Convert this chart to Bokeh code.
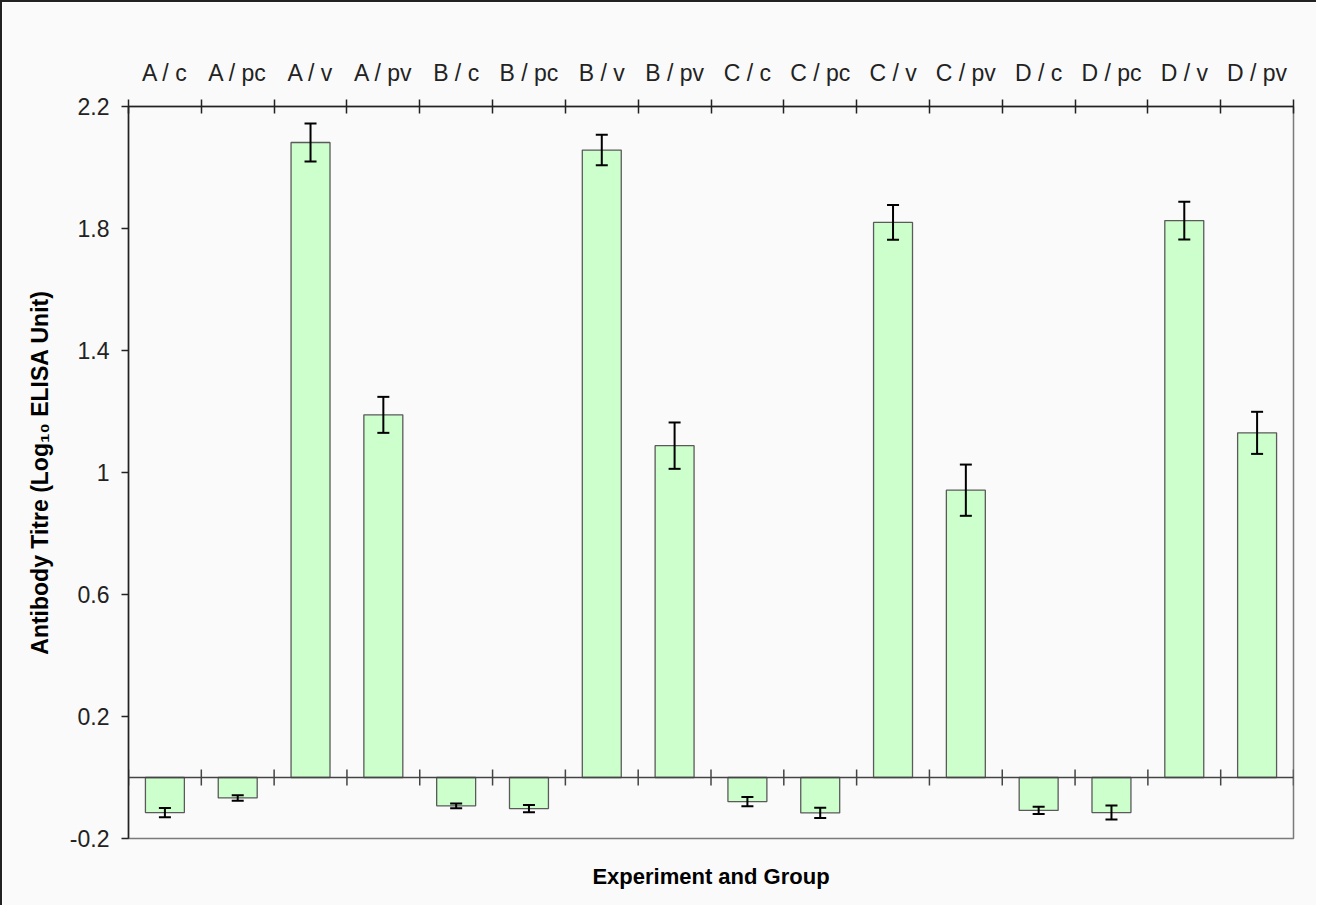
import math
from bokeh.plotting import figure
from bokeh.models import (ColumnDataSource, Range1d, LinearAxis, FixedTicker,
                          Whisker, TeeHead, Span, CustomJSTickFormatter)
from bokeh.embed import file_html
from bokeh.resources import INLINE

# ---- data ----
groups = ["A / c", "A / pc", "A / v", "A / pv",
          "B / c", "B / pc", "B / v", "B / pv",
          "C / c", "C / pc", "C / v", "C / pv",
          "D / c", "D / pc", "D / v", "D / pv"]
titre = [-0.115, -0.067, 2.082, 1.189,
         -0.093, -0.102, 2.057, 1.088,
         -0.079, -0.116, 1.820, 0.942,
         -0.108, -0.115, 1.826, 1.130]
sem = [0.015, 0.009, 0.062, 0.059,
       0.008, 0.012, 0.050, 0.076,
       0.015, 0.017, 0.057, 0.084,
       0.012, 0.023, 0.062, 0.069]
yticks = [-0.2, 0.2, 0.6, 1.0, 1.4, 1.8, 2.2]

FONT = "Liberation Sans"
DARK = "#222222"

n = len(groups)
xs = list(range(n))
bounds = [i - 0.5 for i in range(n + 1)]

src = ColumnDataSource(dict(
    x=xs, top=titre,
    upper=[v + e for v, e in zip(titre, sem)],
    lower=[v - e for v, e in zip(titre, sem)],
))

p = figure(width=1316, height=905, output_backend="svg", toolbar_location=None,
           x_range=Range1d(-0.5, n - 0.5), y_range=Range1d(yticks[0], yticks[-1]),
           x_axis_location=None, y_axis_location=None,
           min_border_left=126, min_border_right=25,
           min_border_top=104, min_border_bottom=69,
           background_fill_color="#fafafa", border_fill_color="#fafafa")
p.styles = {"border-left": "2px solid #222", "border-top": "2px solid #222"}
p.xgrid.visible = False
p.ygrid.visible = False
p.outline_line_color = "#7a7a7a"
p.outline_line_width = 1.5

# bars
p.vbar(x="x", top="top", bottom=0, width=0.535, source=src,
       fill_color="#ccffcc", line_color="#5a5a5a", line_width=1.3)

# zero line with category ticks
p.add_layout(Span(location=0, dimension="width", line_color="#444444", line_width=1.5))
p.scatter(x=bounds, y=[0] * len(bounds), marker="dash", size=16, angle=math.pi / 2,
          line_color="#444444", line_width=1.5)

# error bars (drawn above the bars)
p.add_layout(Whisker(source=src, base="x", upper="upper", lower="lower", level="overlay",
                     line_color="black", line_width=2,
                     upper_head=TeeHead(size=12, line_color="black", line_width=2),
                     lower_head=TeeHead(size=12, line_color="black", line_width=2)))

# top category axis
top_ax = LinearAxis(ticker=FixedTicker(ticks=xs, minor_ticks=bounds),
                    major_label_overrides={i: g for i, g in enumerate(groups)})
top_ax.major_tick_in = 0
top_ax.major_tick_out = 0
top_ax.minor_tick_in = 7
top_ax.minor_tick_out = 7
top_ax.minor_tick_line_color = DARK
top_ax.minor_tick_line_width = 1.5
top_ax.axis_line_color = DARK
top_ax.axis_line_width = 1.5
top_ax.major_label_standoff = 14
top_ax.major_label_text_font = FONT
top_ax.major_label_text_font_size = "23px"
top_ax.major_label_text_color = DARK
p.add_layout(top_ax, "above")

# left value axis
left_ax = LinearAxis(ticker=FixedTicker(ticks=yticks, minor_ticks=[]),
                     formatter=CustomJSTickFormatter(code="return String(Math.round(tick*10)/10);"),
                     axis_label="Antibody Titre (Log\u2081\u2080 ELISA Unit)")
left_ax.major_tick_in = 0
left_ax.major_tick_out = 7
left_ax.major_tick_line_color = DARK
left_ax.major_tick_line_width = 1.5
left_ax.axis_line_color = DARK
left_ax.axis_line_width = 1.5
left_ax.major_label_standoff = 12
left_ax.major_label_text_font = FONT
left_ax.major_label_text_font_size = "23px"
left_ax.major_label_text_color = DARK
left_ax.axis_label_text_font = FONT
left_ax.axis_label_text_font_size = "23px"
left_ax.axis_label_text_font_style = "bold"
left_ax.axis_label_text_color = "black"
left_ax.axis_label_standoff = 14
p.add_layout(left_ax, "left")

# bottom axis title only
bot_ax = LinearAxis(ticker=FixedTicker(ticks=[]), axis_label="Experiment and Group")
bot_ax.axis_line_color = None
bot_ax.major_tick_line_color = None
bot_ax.minor_tick_line_color = None
bot_ax.axis_label_standoff = 25
bot_ax.axis_label_text_font = FONT
bot_ax.axis_label_text_font_size = "22px"
bot_ax.axis_label_text_font_style = "bold"
bot_ax.axis_label_text_color = "black"
p.add_layout(bot_ax, "below")

open("out.html", "w").write(file_html(p, INLINE))
